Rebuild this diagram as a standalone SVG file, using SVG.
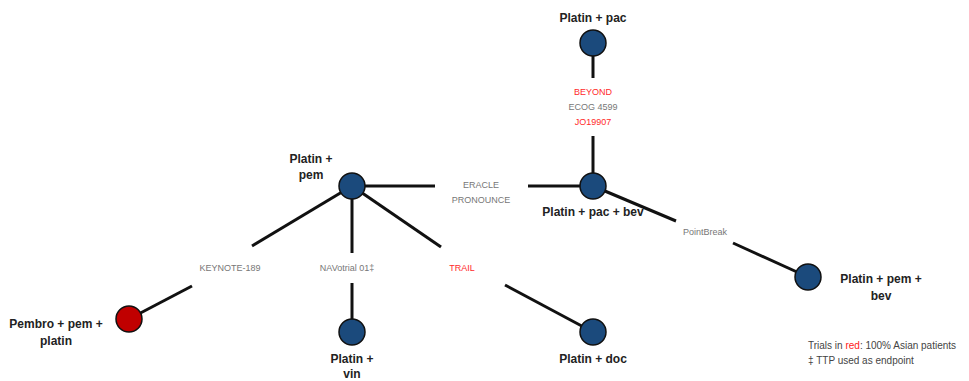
<svg xmlns="http://www.w3.org/2000/svg" width="969" height="381" viewBox="0 0 969 381">
<style>
.edge{stroke:#111;stroke-width:3;fill:none}
.node{fill:#1b4a7c;stroke:#111;stroke-width:1.5}
.red{fill:#c00000;stroke:#111;stroke-width:1.5}
.nl{font-family:"Liberation Sans",Arial,sans-serif;font-weight:bold;font-size:12px;fill:#222;text-anchor:middle}
.el{font-family:"Liberation Sans",Arial,sans-serif;font-size:9px;fill:#777;text-anchor:middle}
.er{fill:#ff2a2a}
.lg{font-family:"Liberation Sans",Arial,sans-serif;font-size:10px;fill:#444}
</style>
<rect width="969" height="381" fill="#fff"/>
<g id="connectors">
<line class="edge" x1="593" y1="43" x2="593" y2="78"/>
<line class="edge" x1="593" y1="136" x2="593" y2="186"/>
<text class="el er" x="593" y="95">BEYOND</text>
<text class="el" x="593" y="110">ECOG 4599</text>
<text class="el er" x="593" y="125">JO19907</text>
<line class="edge" x1="352" y1="186" x2="435" y2="186"/>
<line class="edge" x1="528" y1="186" x2="593" y2="186"/>
<text class="el" x="481" y="188">ERACLE</text>
<text class="el" x="481" y="203">PRONOUNCE</text>
<line class="edge" x1="593" y1="186" x2="676" y2="221"/>
<line class="edge" x1="733" y1="243" x2="808" y2="277"/>
<text class="el" x="705" y="235">PointBreak</text>
<line class="edge" x1="352" y1="186" x2="252" y2="246"/>
<line class="edge" x1="192" y1="286" x2="129" y2="319"/>
<text class="el" x="230" y="271">KEYNOTE-189</text>
<line class="edge" x1="352" y1="186" x2="352" y2="253"/>
<line class="edge" x1="352" y1="283" x2="352" y2="332"/>
<text class="el" x="347" y="271">NAVotrial 01‡</text>
<line class="edge" x1="352" y1="186" x2="441" y2="247"/>
<line class="edge" x1="505" y1="285" x2="593" y2="332"/>
<text class="el er" x="462" y="271">TRAIL</text>
</g>
<g id="n-platin-pac">
<circle class="node" cx="593" cy="43" r="13"/>
<text class="nl" x="593" y="22">Platin + pac</text>
</g>
<g id="n-platin-pem">
<circle class="node" cx="352" cy="186" r="13"/>
<text class="nl" x="311" y="163">Platin +</text>
<text class="nl" x="311" y="179">pem</text>
</g>
<g id="n-platin-pac-bev">
<circle class="node" cx="593" cy="186" r="13"/>
<text class="nl" x="593" y="216">Platin + pac + bev</text>
</g>
<g id="n-platin-pem-bev">
<circle class="node" cx="808" cy="277" r="13"/>
<text class="nl" x="881" y="283">Platin + pem +</text>
<text class="nl" x="881" y="300">bev</text>
</g>
<g id="n-pembro">
<circle class="red" cx="129" cy="319" r="13"/>
<text class="nl" x="56" y="328">Pembro + pem +</text>
<text class="nl" x="56" y="345">platin</text>
</g>
<g id="n-platin-vin">
<circle class="node" cx="352" cy="332" r="13"/>
<text class="nl" x="352" y="363">Platin +</text>
<text class="nl" x="352" y="378">vin</text>
</g>
<g id="n-platin-doc">
<circle class="node" cx="593" cy="332" r="13"/>
<text class="nl" x="593" y="363">Platin + doc</text>
</g>
<g id="legend">
<text class="lg" x="808" y="349">Trials in <tspan fill="#ff2020">red</tspan>: 100% Asian patients</text>
<text class="lg" x="808" y="364">‡ TTP used as endpoint</text>
</g>
</svg>
